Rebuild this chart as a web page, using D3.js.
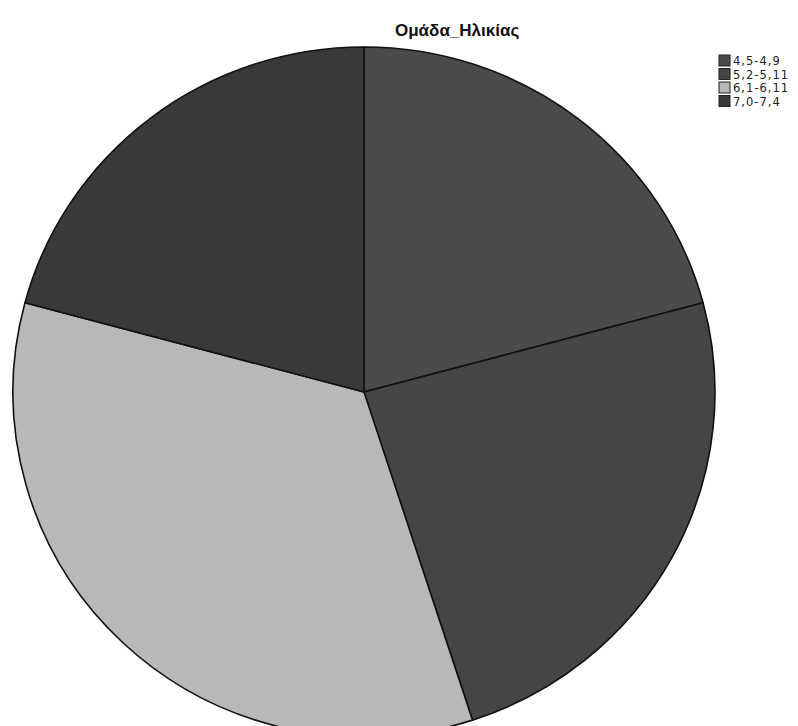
<!DOCTYPE html>
<html>
<head>
<meta charset="utf-8">
<script src="https://cdn.jsdelivr.net/npm/d3@7"></script>
<style>
  html, body { margin: 0; padding: 0; background: #ffffff; }
  svg { display: block; }
</style>
</head>
<body>
<svg id="chart" width="798" height="726"></svg>
<script>
// Age groups and counts per group
const categories = ["4,5-4,9", "5,2-5,11", "6,1-6,11", "7,0-7,4"];
const counts = [25, 29, 41, 25];
const fills = ["#4b4b4b", "#454545", "#b8b8b8", "#393939"];
const title = "Ομάδα_Ηλικίας";

const svg = d3.select("#chart");

const cx = 364, cy = 392, ry = 345, rx = 351;

const pie = d3.pie().sort(null).value(d => d.value);
const arcs = pie(categories.map((c, i) => ({ key: c, value: counts[i] })));
const arc = d3.arc().innerRadius(0).outerRadius(ry);
const color = d3.scaleOrdinal().domain(categories).range(fills);

const g = svg.append("g")
  .attr("transform", `translate(${cx},${cy}) scale(${rx / ry},1)`);

g.selectAll("path")
  .data(arcs)
  .join("path")
  .attr("d", arc)
  .attr("fill", d => color(d.data.key))
  .attr("stroke", "#111")
  .attr("stroke-width", 1.6)
  .attr("vector-effect", "non-scaling-stroke")
  .attr("stroke-linejoin", "round");

// Title
svg.append("text")
  .attr("x", 395)
  .attr("y", 36)
  .attr("text-anchor", "start")
  .attr("font-family", "Liberation Sans, Arial, sans-serif")
  .attr("font-weight", "bold")
  .attr("font-size", 17)
  .attr("fill", "#111")
  .text(title);

// Legend
const legend = svg.append("g").attr("transform", "translate(719,55)");
const rows = legend.selectAll("g")
  .data(categories)
  .join("g")
  .attr("transform", (d, i) => `translate(0,${i * 13.5})`);

rows.append("rect")
  .attr("width", 11)
  .attr("height", 11)
  .attr("fill", d => color(d))
  .attr("stroke", "#222")
  .attr("stroke-width", 1);

rows.append("text")
  .attr("x", 14)
  .attr("y", 10)
  .attr("font-family", "DejaVu Sans, sans-serif")
  .attr("font-size", 11.5)
  .attr("letter-spacing", 1)
  .attr("fill", "#222")
  .text(d => d);
</script>
</body>
</html>
